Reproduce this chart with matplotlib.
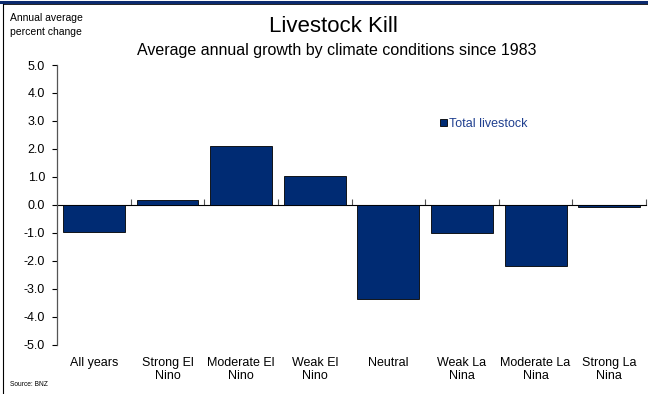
import numpy as np
import matplotlib.pyplot as plt
from matplotlib.lines import Line2D

plt.rcParams['font.family'] = ['Liberation Sans', 'DejaVu Sans']

# categories and values
categories = ['All years', 'Strong El\nNino', 'Moderate El\nNino', 'Weak El\nNino',
              'Neutral', 'Weak La\nNina', 'Moderate La\nNina', 'Strong La\nNina']
livestock = [-0.97, 0.18, 2.1, 1.02, -3.37, -1.0, -2.2, -0.08]
yticks = [5.0, 4.0, 3.0, 2.0, 1.0, 0.0, -1.0, -2.0, -3.0, -4.0, -5.0]

navy = '#002b73'

fig = plt.figure(figsize=(6.48, 3.94), dpi=100)
ax = fig.add_axes([0.088, 0.125, 0.909, 0.71])

x = np.arange(len(categories))
ax.bar(x, livestock, width=0.84, color=navy, edgecolor='black', linewidth=0.6,
       label='Total livestock', zorder=2)

ax.set_xlim(-0.5, len(categories) - 0.5)
ax.set_ylim(-5, 5)
ax.set_yticks(yticks)
ax.set_yticklabels(['%.1f' % v for v in yticks])
ax.tick_params(axis='y', direction='out', length=3.6, width=0.8, pad=5, labelsize=9)

ax.set_xticks(x)
ax.set_xticklabels(categories, linespacing=1.1)
ax.tick_params(axis='x', length=0, pad=9, labelsize=9)

for s in ['top', 'right', 'bottom']:
    ax.spines[s].set_visible(False)
ax.spines['left'].set_color('#555555')
ax.spines['left'].set_linewidth(0.9)

# zero line with boundary ticks
sec = ax.secondary_xaxis(0.5)
sec.set_xticks(np.arange(len(categories)) + 0.5)
sec.set_xticklabels([])
sec.tick_params(direction='out', length=4, width=0.8, color='#555555')
sec.spines['bottom'].set_color('#555555')
sec.spines['bottom'].set_linewidth(0.9)

leg = ax.legend(loc='center left', bbox_to_anchor=(0.65, 0.79), frameon=False,
                fontsize=9, handlelength=0.55, handleheight=0.55, handletextpad=0.15,
                borderpad=0, borderaxespad=0)
for t in leg.get_texts():
    t.set_color('#1f3f8f')

fig.text(0.514, 0.933, 'Livestock Kill', ha='center', va='center', fontsize=16)
fig.text(0.52, 0.871, 'Average annual growth by climate conditions since 1983',
         ha='center', va='center', fontsize=11.5)
fig.text(0.016, 0.936, 'Annual average\npercent change', ha='left', va='center',
         fontsize=7.5, linespacing=1.5)
fig.text(0.016, 0.025, 'Source: BNZ', ha='left', va='center', fontsize=4.8)

# frame lines
fig.add_artist(Line2D([0, 1], [0.996, 0.996], color='#0b2a6e', linewidth=2.2,
                      transform=fig.transFigure))
fig.add_artist(Line2D([0.005, 1], [0.989, 0.989], color='black', linewidth=0.6,
                      transform=fig.transFigure))
fig.add_artist(Line2D([0.005, 0.005], [0, 0.989], color='black', linewidth=0.8,
                      transform=fig.transFigure))

fig.savefig('out.png', dpi=100)
